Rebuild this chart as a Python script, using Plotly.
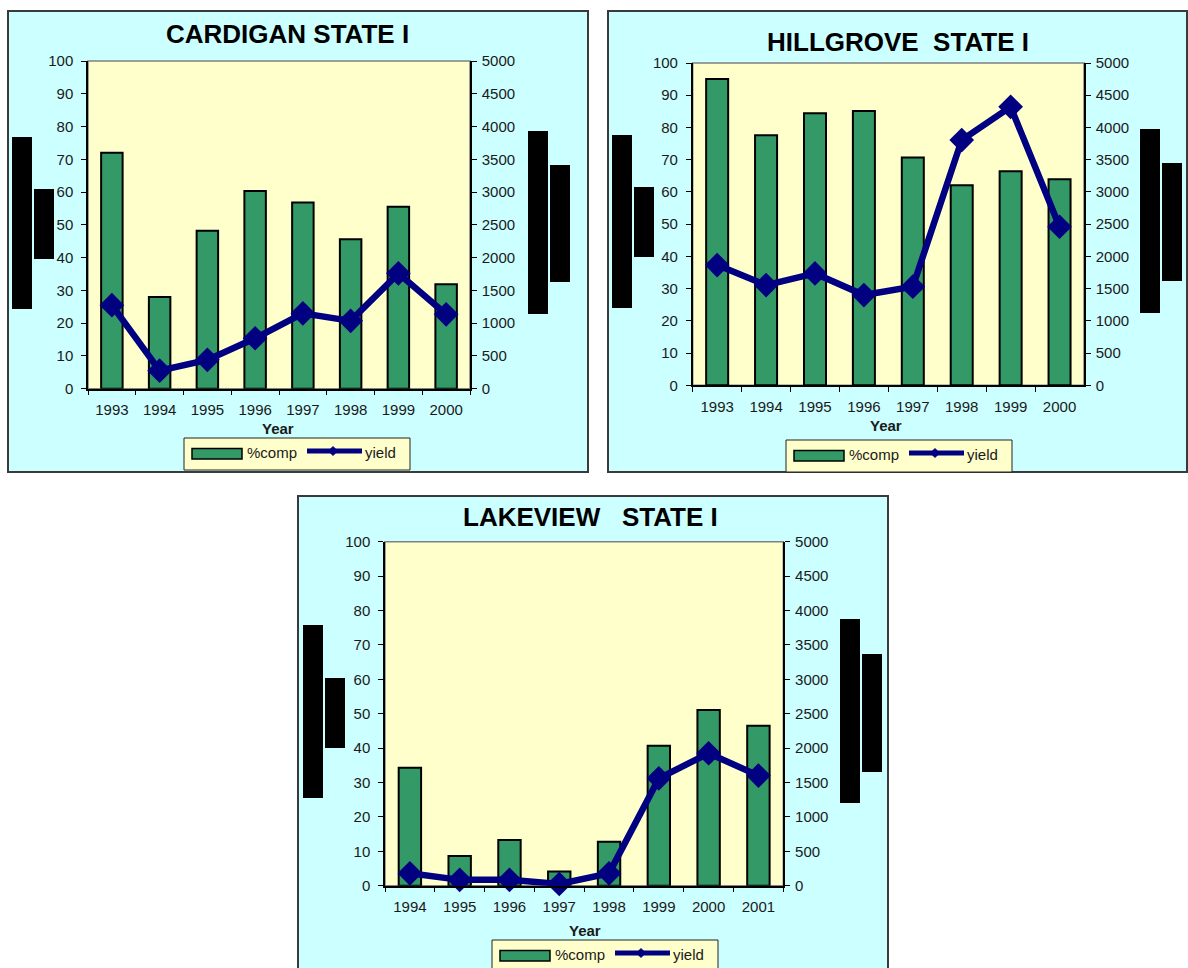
import plotly.graph_objects as go

W, H = 1188, 968

# ---- data -------------------------------------------------------------
years_cardigan = ["1993", "1994", "1995", "1996", "1997", "1998", "1999", "2000"]
comp_cardigan = [72, 28, 48.2, 60.3, 56.8, 45.6, 55.5, 31.9]
yield_cardigan = [1275, 275, 440, 770, 1150, 1035, 1760, 1135]

years_hillgrove = ["1993", "1994", "1995", "1996", "1997", "1998", "1999", "2000"]
comp_hillgrove = [95, 77.6, 84.4, 85.1, 70.7, 62.1, 66.4, 63.9]
yield_hillgrove = [1865, 1555, 1735, 1400, 1530, 3805, 4320, 2460]

years_lakeview = ["1994", "1995", "1996", "1997", "1998", "1999", "2000", "2001"]
comp_lakeview = [34.3, 8.6, 13.3, 4.1, 12.8, 40.7, 51.1, 46.5]
yield_lakeview = [180, 85, 85, 25, 180, 1560, 1925, 1600]

comp_ticks = list(range(0, 101, 10))
yield_ticks = list(range(0, 5001, 500))

# ---- styling ----------------------------------------------------------
PANEL_BG = "#CCFFFF"
PLOT_BG = "#FFFFCC"
BAR_GREEN = "#339966"
NAVY = "#000080"
FONT = "Liberation Sans, Arial, sans-serif"
TEXT = "#1a1a1a"


def fx(x):
    return x / W


def fy(y):
    return 1 - y / H


panels = [
    dict(title="CARDIGAN STATE I", years=years_cardigan, comp=comp_cardigan,
         yld=yield_cardigan, box=(8, 11, 588, 472), plot=(88, 61, 470, 388.7),
         title_xy=(287, 34), xlab_xy=(278, 428.5), legend_xy=(184, 438),
         blocks=[(12, 137, 32, 309), (34, 189, 54, 259),
                 (528, 131, 548, 314), (550, 165, 570, 282)]),
    dict(title="HILLGROVE\u00a0\u00a0STATE I", years=years_hillgrove,
         comp=comp_hillgrove, yld=yield_hillgrove, box=(608, 11, 1187, 472),
         plot=(692.7, 63, 1084, 385.3), title_xy=(898, 42.3),
         xlab_xy=(886, 425), legend_xy=(786, 440),
         blocks=[(612, 135, 632, 308), (634, 187, 654, 257),
                 (1140, 129, 1160, 313), (1162, 163, 1182, 281)]),
    dict(title="LAKEVIEW\u00a0\u00a0\u00a0STATE I", years=years_lakeview,
         comp=comp_lakeview, yld=yield_lakeview, box=(298, 496, 888, 980),
         plot=(385, 541.7, 783.3, 885.7), title_xy=(590, 517),
         xlab_xy=(585, 930), legend_xy=(492, 940),
         blocks=[(303, 625, 323, 798), (325, 678, 345, 748),
                 (840, 619, 860, 803), (862, 654, 882, 772)]),
]

fig = go.Figure()
shapes = []
annotations = []
layout = {}

for i, p in enumerate(panels):
    k = i + 1
    xname = "x" if k == 1 else f"x{k}"
    yl = 2 * k - 1
    yr = 2 * k
    yl_name = "y" if yl == 1 else f"y{yl}"
    yr_name = f"y{yr}"

    # panel frame
    bx0, by0, bx1, by1 = p["box"]
    shapes.append(dict(type="rect", xref="paper", yref="paper", layer="below",
                       x0=fx(bx0), x1=fx(bx1), y0=fy(by1), y1=fy(by0),
                       fillcolor=PANEL_BG, line=dict(color="#3a3a3a", width=2)))
    # plotting area
    px0, py0, px1, py1 = p["plot"]
    shapes.append(dict(type="rect", xref="paper", yref="paper", layer="below",
                       x0=fx(px0), x1=fx(px1), y0=fy(py1), y1=fy(py0),
                       fillcolor=PLOT_BG, line=dict(color="#808080", width=1.5)))
    # blocked-out axis titles
    for (a0, b0, a1, b1) in p["blocks"]:
        shapes.append(dict(type="rect", xref="paper", yref="paper", layer="below",
                           x0=fx(a0), x1=fx(a1), y0=fy(b1), y1=fy(b0),
                           fillcolor="black", line=dict(width=0)))

    xdom = [fx(px0), fx(px1)]
    ydom = [fy(py1), fy(py0)]

    fig.add_trace(go.Bar(
        x=p["years"], y=p["comp"], name="%comp", xaxis=xname, yaxis=yl_name,
        width=0.45, marker=dict(color=BAR_GREEN, line=dict(color="black", width=2)),
        showlegend=False))
    fig.add_trace(go.Scatter(
        x=p["years"], y=p["yld"], name="yield", xaxis=xname, yaxis=yr_name,
        mode="lines+markers", line=dict(color=NAVY, width=6.5),
        marker=dict(symbol="diamond", size=19, color=NAVY),
        cliponaxis=False, showlegend=False))

    tickfont = dict(family=FONT, size=15, color=TEXT)
    common = dict(ticks="outside", ticklen=5, tickcolor="black", tickwidth=1.2,
                  showline=True, linecolor="black", linewidth=1.5, showgrid=False,
                  zeroline=False, tickfont=tickfont, fixedrange=True,
                  automargin=False)
    layout["xaxis" if k == 1 else f"xaxis{k}"] = dict(
        domain=xdom, anchor=yl_name, type="category", range=[-0.5, 7.5],
        tickson="boundaries", ticklabelstandoff=7, **common)
    layout["yaxis" if yl == 1 else f"yaxis{yl}"] = dict(
        domain=ydom, anchor=xname, range=[0, 100], tickvals=comp_ticks,
        ticklabelstandoff=5, **common)
    layout[f"yaxis{yr}"] = dict(
        overlaying=yl_name, side="right", anchor=xname, range=[0, 5000],
        tickvals=yield_ticks, ticklabelstandoff=2, **common)

    # titles
    tx, ty = p["title_xy"]
    annotations.append(dict(text=f"<b>{p['title']}</b>", xref="paper", yref="paper",
                            x=fx(tx), y=fy(ty), xanchor="center", yanchor="middle",
                            showarrow=False, font=dict(family=FONT, size=26, color="black")))
    lx, ly = p["xlab_xy"]
    annotations.append(dict(text="<b>Year</b>", xref="paper", yref="paper",
                            x=fx(lx), y=fy(ly), xanchor="center", yanchor="middle",
                            showarrow=False, font=dict(family=FONT, size=15, color=TEXT)))

    # legend box
    gx, gy = p["legend_xy"]
    shapes.append(dict(type="rect", xref="paper", yref="paper", layer="below",
                       x0=fx(gx), x1=fx(gx + 226), y0=fy(gy + 32), y1=fy(gy),
                       fillcolor=PLOT_BG, line=dict(color="#222222", width=1)))
    shapes.append(dict(type="rect", xref="paper", yref="paper", layer="below",
                       x0=fx(gx + 8), x1=fx(gx + 58), y0=fy(gy + 21), y1=fy(gy + 10.5),
                       fillcolor=BAR_GREEN, line=dict(color="black", width=1.5)))
    shapes.append(dict(type="line", xref="paper", yref="paper", layer="below",
                       x0=fx(gx + 123), x1=fx(gx + 178), y0=fy(gy + 13), y1=fy(gy + 13),
                       line=dict(color=NAVY, width=5)))
    cx, cy, r = gx + 149, gy + 13, 4.5
    shapes.append(dict(type="path", xref="paper", yref="paper", layer="below",
                       path=(f"M {fx(cx - r)} {fy(cy)} L {fx(cx)} {fy(cy - r)} "
                             f"L {fx(cx + r)} {fy(cy)} L {fx(cx)} {fy(cy + r)} Z"),
                       fillcolor=NAVY, line=dict(color=NAVY, width=1)))
    annotations.append(dict(text="%comp", xref="paper", yref="paper",
                            x=fx(gx + 61), y=fy(gy + 14), xanchor="left", yanchor="middle",
                            showarrow=False, font=dict(family=FONT, size=15, color=TEXT)))
    annotations.append(dict(text="yield", xref="paper", yref="paper",
                            x=fx(gx + 179), y=fy(gy + 14), xanchor="left", yanchor="middle",
                            showarrow=False, font=dict(family=FONT, size=15, color=TEXT)))

fig.update_layout(
    width=W, height=H,
    margin=dict(l=0, r=0, t=0, b=0, pad=0, autoexpand=False),
    paper_bgcolor="white", plot_bgcolor="rgba(0,0,0,0)",
    shapes=shapes, annotations=annotations, showlegend=False,
    font=dict(family=FONT, color=TEXT), barmode="overlay",
    **layout,
)

fig.write_html("out.html")
